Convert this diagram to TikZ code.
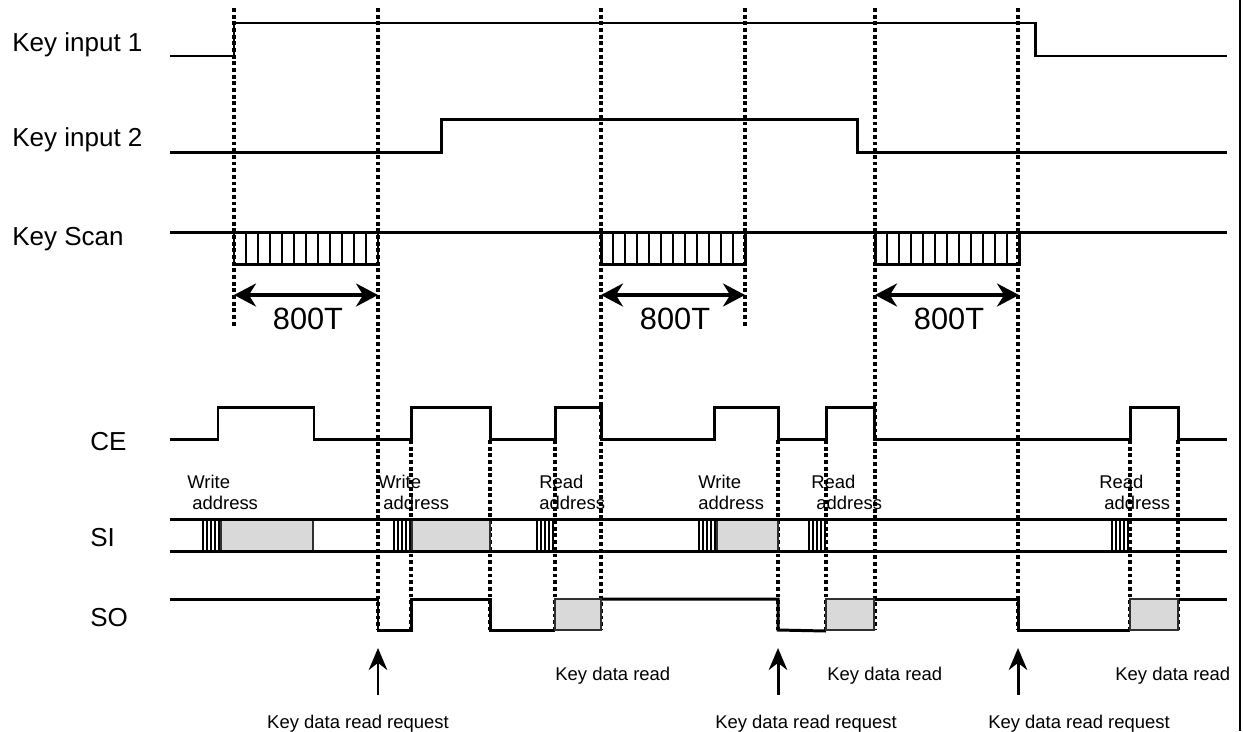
\documentclass[tikz,border=0pt]{standalone}
\usepackage{fontspec}
\setmainfont{Liberation Sans}
\usetikzlibrary{arrows.meta, positioning}
\definecolor{tdGrey}{HTML}{D9D9D9}
\definecolor{tdEdge}{HTML}{303030}
\tikzset{
  wave/.style     = {line width=1.7pt, black, line join=miter},
  guide/.style    = {line width=1.9pt, black, dash pattern=on 2.2pt off 1.6pt},
  databox/.style  = {fill=tdGrey, draw=tdEdge, line width=1.1pt},
  stripe/.style   = {line width=1.2pt, black},
  span/.style     = {{Stealth[length=0.44cm, width=0.46cm]}-{Stealth[length=0.44cm, width=0.46cm]},
                     line width=2pt},
  reqarrow/.style = {-{Stealth[length=0.44cm, width=0.37cm]}, line width=1.7pt},
  siglbl/.style   = {font=\fontsize{14.8}{16}\selectfont, anchor=west, inner sep=0pt},
  note/.style     = {font=\fontsize{10.5}{12}\selectfont, inner sep=0pt},
  addr/.style     = {note, align=left, anchor=north west},
  durlbl/.style   = {font=\fontsize{17.5}{20}\selectfont, inner sep=0pt},
}

\begin{document}
\begin{tikzpicture}[x=0.02cm, y=-0.02cm]
  \useasboundingbox (0,0) rectangle (1243,731);
  \draw[line width=1.2pt] (1240,0) -- (1240,731);

  % signal names
  \node[siglbl] (key1) at (12,45)  {Key input 1};
  \node[siglbl] (key2) at (12,140) {Key input 2};
  \node[siglbl] (scan) at (12,239) {Key Scan};
  \node[siglbl] (ce)   at (90,442) {CE};
  \node[siglbl] (si)   at (90,538) {SI};
  \node[siglbl] (so)   at (90,618) {SO};

  % guides
  \foreach \x in {234,745} \draw[guide] (\x,8) -- (\x,327);
  \foreach \x in {378,601,875,1018} \draw[guide] (\x,8) -- (\x,630);
  \foreach \x in {411,490,555,778,826,1130,1178} \draw[guide] (\x,440) -- (\x,630);

  % key inputs
  \draw[wave] (170,56) -- (234,56) -- (234,23) -- (1035,23) -- (1035,56) -- (1227,56);
  \draw[wave] (170,152) -- (441,152) -- (441,119) -- (857,119) -- (857,152) -- (1227,152);

  % key scan
  \draw[wave] (170,232) -- (1227,232);
  \foreach \a/\n in {234/1,601/2,875/3} {
    \draw[wave] (\a,232) rectangle ++(144,32);
    \foreach \k in {1,...,11} \draw[stripe] ({\a+12*\k},232) -- ++(0,32);
    \coordinate (sa\n) at (\a,295);
    \coordinate (sb\n) at ({\a+144},295);
    \draw[span] (sa\n) -- (sb\n);
    \node[durlbl] (dur\n) at ({\a+74},319) {800T};
  }

  % CE
  \draw[wave] (170,439)
    \foreach \a/\b in {218/314,411/490,555/601,714/778,826/874,1130/1178}
      { -- (\a,439) -- (\a,407) -- (\b,407) -- (\b,439) }
    -- (1227,439);

  % SI
  \foreach \a/\b in {221/313,412/490,717/778} \draw[databox] (\a,519) rectangle (\b,551);
  \foreach \e in {221,412,555,717,827,1130}
    \foreach \k in {2,6,...,18} \draw[stripe] ({\e-\k},519) -- ++(0,32);
  \draw[wave] (170,519) -- (1227,519);
  \draw[wave] (170,551) -- (1227,551);

  \node[addr] (wa1) at (187,475)  {Write\\\hspace{0.1cm}address};
  \node[addr] (wa2) at (378,475)  {Write\\\hspace{0.1cm}address};
  \node[addr] (ra1) at (539,475)  {Read\\address};
  \node[addr] (wa3) at (698,475)  {Write\\address};
  \node[addr] (ra2) at (811,475)  {Read\\\hspace{0.1cm}address};
  \node[addr] (ra3) at (1099,475) {Read\\\hspace{0.1cm}address};

  % SO
  \draw[wave] (170,599) -- (378,599) -- (378,630) -- (411,630) -- (411,599)
    -- (490,599) -- (490,630) -- (555,630);
  \draw[wave] (601,599) -- (778,599) -- (778,630) -- (826,631);
  \draw[wave] (874,599) -- (1018,599) -- (1018,630) -- (1130,630);
  \draw[wave] (1178,599) -- (1227,599);
  \foreach \a/\b in {555/601,826/874,1130/1178} \draw[databox] (\a,599) rectangle (\b,630);

  % read requests
  \foreach \x/\n in {378/1,778/2,1018/3} {
    \coordinate (rq\n) at (\x,695);
    \coordinate (rqtip\n) at (\x,648);
    \draw[reqarrow] (rq\n) -- (rqtip\n);
  }
  \node[note, anchor=base] (req1) at (358,728)  {Key data read request};
  \node[note, anchor=base] (req2) at (806,728)  {Key data read request};
  \node[note, anchor=base] (req3) at (1079,728) {Key data read request};
  \node[note, anchor=base west] (rd1) at (555,680)  {Key data read};
  \node[note, anchor=base west] (rd2) at (827,680)  {Key data read};
  \node[note, anchor=base west] (rd3) at (1115,680) {Key data read};
\end{tikzpicture}
\end{document}
